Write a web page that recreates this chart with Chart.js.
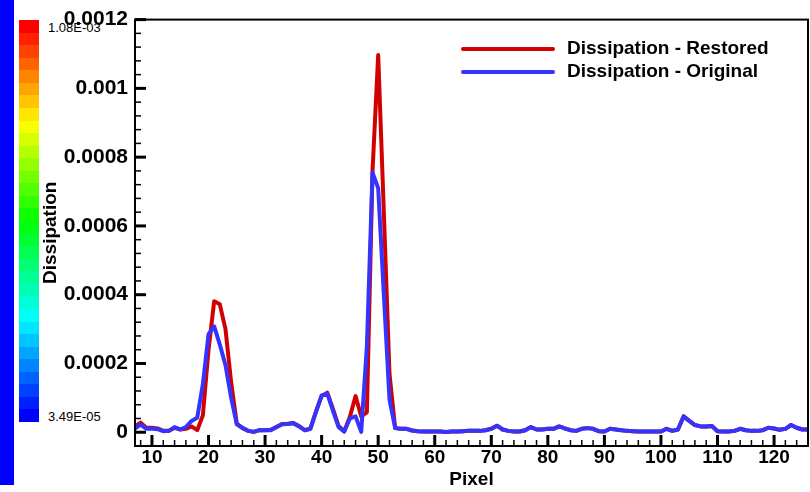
<!DOCTYPE html>
<html>
<head>
<meta charset="utf-8">
<script src="https://cdn.jsdelivr.net/npm/chart.js@4/dist/chart.umd.min.js"></script>
<style>
  html, body { margin: 0; padding: 0; background: #fff; }
  #wrap { position: relative; width: 810px; height: 492px; overflow: hidden; font-family: "Liberation Sans", Arial, sans-serif; }
  #strip { position: absolute; left: 0; top: 0; width: 14px; height: 485px; background: #0000ff; }
  #bar { position: absolute; left: 19px; top: 20px; width: 20px; height: 402px; }
  #bar div { width: 20px; }
  .bar-label { position: absolute; left: 48px; font-size: 13px; line-height: 13px; color: #000; }
  #chart { position: absolute; left: 0; top: 0; }
</style>
</head>
<body>
<div id="wrap">
  <div id="strip"></div>
  <div id="bar"></div>
  <span class="bar-label" style="top:21px">1.08E-03</span>
  <span class="bar-label" style="top:410px">3.49E-05</span>
  <canvas id="chart" width="810" height="492"></canvas>
</div>
<script>
// --- data ---
const pixels = [
  7, 8, 9, 10, 11, 12, 13, 14, 15, 16, 17, 18, 19, 20, 21, 22, 23, 24, 25, 26,
  27, 28, 29, 30, 31, 32, 33, 34, 35, 36, 37, 38, 39, 40, 41, 42, 43, 44, 45, 46,
  47, 48, 49, 50, 51, 52, 53, 54, 55, 56, 57, 58, 59, 60, 61, 62, 63, 64, 65, 66,
  67, 68, 69, 70, 71, 72, 73, 74, 75, 76, 77, 78, 79, 80, 81, 82, 83, 84, 85, 86,
  87, 88, 89, 90, 91, 92, 93, 94, 95, 96, 97, 98, 99, 100, 101, 102, 103, 104, 105, 106,
  107, 108, 109, 110, 111, 112, 113, 114, 115, 116, 117, 118, 119, 120, 121, 122, 123, 124, 125, 126
];

const restored = [
  1.7e-5, 2.8e-5, 1.3e-5, 1.3e-5, 1.1e-5, 4e-6, 4e-6, 1.3e-5, 8e-6, 1.0e-5,
  1.7e-5, 6e-6, 4.9e-5, 2.4e-4, 3.81e-4, 3.72e-4, 3.0e-4, 1.45e-4, 2.5e-5, 1.2e-5,
  4e-6, 1e-6, 6e-6, 6e-6, 7e-6, 1.5e-5, 2.4e-5, 2.5e-5, 2.7e-5, 1.8e-5,
  6e-6, 1.0e-5, 6.0e-5, 1.05e-4, 1.15e-4, 6.8e-5, 1.8e-5, 3e-6, 4.5e-5, 1.05e-4,
  4.6e-5, 5.8e-5, 7.6e-4, 1.097e-3, 6.4e-4, 1.7e-4, 1.2e-5, 1.0e-5, 1.0e-5, 5e-6,
  3e-6, 2e-6, 2e-6, 2e-6, 2e-6, 1e-6, 2e-6, 2e-6, 3e-6, 4e-6,
  4e-6, 4e-6, 6e-6, 1.0e-5, 1.9e-5, 8e-6, 4e-6, 2e-6, 2e-6, 6e-6,
  1.5e-5, 8e-6, 8e-6, 1.0e-5, 1.0e-5, 1.7e-5, 1.1e-5, 6e-6, 4e-6, 1.0e-5,
  1.2e-5, 1.0e-5, 3e-6, 2e-6, 1.0e-5, 8e-6, 6e-6, 4e-6, 3e-6, 2e-6,
  2e-6, 2e-6, 2e-6, 2e-6, 1.0e-5, 4e-6, 8e-6, 4.6e-5, 3.3e-5, 2.1e-5,
  1.7e-5, 1.7e-5, 1.8e-5, 3e-6, 2e-6, 2e-6, 4e-6, 1.0e-5, 6e-6, 4e-6,
  4e-6, 6e-6, 1.3e-5, 1.1e-5, 7e-6, 1.0e-5, 2.1e-5, 1.3e-5, 8e-6, 8e-6
];

const original = [
  1.1e-5, 2.2e-5, 1.0e-5, 1.1e-5, 9e-6, 3e-6, 4e-6, 1.5e-5, 8e-6, 1.5e-5,
  3.3e-5, 4.2e-5, 1.4e-4, 2.85e-4, 3.08e-4, 2.55e-4, 1.95e-4, 1.0e-4, 2.3e-5, 1.3e-5,
  4e-6, 1e-6, 6e-6, 6e-6, 6e-6, 1.5e-5, 2.3e-5, 2.4e-5, 2.6e-5, 1.7e-5,
  6e-6, 1.0e-5, 5.9e-5, 1.07e-4, 1.12e-4, 6.3e-5, 1.5e-5, 2e-6, 4.0e-5, 4.6e-5,
  1e-6, 2.5e-4, 7.55e-4, 7.1e-4, 4.0e-4, 9.5e-5, 1.2e-5, 1.0e-5, 1.0e-5, 5e-6,
  3e-6, 2e-6, 2e-6, 2e-6, 2e-6, 1e-6, 2e-6, 2e-6, 3e-6, 4e-6,
  4e-6, 4e-6, 6e-6, 1.0e-5, 1.9e-5, 8e-6, 4e-6, 2e-6, 2e-6, 6e-6,
  1.5e-5, 8e-6, 8e-6, 1.0e-5, 1.0e-5, 1.7e-5, 1.1e-5, 6e-6, 4e-6, 1.0e-5,
  1.2e-5, 1.0e-5, 3e-6, 2e-6, 1.0e-5, 8e-6, 6e-6, 4e-6, 3e-6, 2e-6,
  2e-6, 2e-6, 2e-6, 2e-6, 1.0e-5, 4e-6, 8e-6, 4.6e-5, 3.3e-5, 2.1e-5,
  1.7e-5, 1.7e-5, 1.8e-5, 3e-6, 2e-6, 2e-6, 4e-6, 1.0e-5, 6e-6, 4e-6,
  4e-6, 6e-6, 1.3e-5, 1.1e-5, 7e-6, 1.0e-5, 2.1e-5, 1.3e-5, 8e-6, 8e-6
];

const seriesNames = ['Dissipation - Restored', 'Dissipation - Original'];
const seriesColors = ['rgb(210,0,0)', 'rgb(52,52,255)'];

const xMajorTicks = [10, 20, 30, 40, 50, 60, 70, 80, 90, 100, 110, 120];
const yMajorTicks = [0, 0.0002, 0.0004, 0.0006, 0.0008, 0.001, 0.0012];
const yTickLabels = ['0', '0.0002', '0.0004', '0.0006', '0.0008', '0.001', '0.0012'];

// --- colour legend bar on the left (Tecplot style contour legend) ---
const rainbowStops = [[0, 0, 255], [0, 255, 255], [0, 255, 0], [255, 255, 0], [255, 0, 0]];
const bandCount = 32;
const barEl = document.getElementById('bar');
for (let i = bandCount - 1; i >= 0; i--) {
  const t = i / (bandCount - 1) * (rainbowStops.length - 1);
  const k = Math.min(Math.floor(t), rainbowStops.length - 2);
  const f = t - k;
  const c = rainbowStops[k].map((v, j) => Math.round(v + (rainbowStops[k + 1][j] - v) * f));
  const band = document.createElement('div');
  band.style.height = (402 / bandCount) + 'px';
  band.style.background = `rgb(${c[0]},${c[1]},${c[2]})`;
  barEl.appendChild(band);
}

// --- inward ticks, box frame and in-plot legend ---
const frameAndTicks = {
  id: 'frameAndTicks',
  afterDatasetsDraw(chart) {
    const { ctx, chartArea: a, scales: { x, y } } = chart;
    ctx.save();
    ctx.strokeStyle = '#000';
    ctx.lineCap = 'butt';

    for (let v = 8; v <= 126; v += 2) {
      const px = x.getPixelForValue(v);
      const major = v % 10 === 0;
      ctx.lineWidth = major ? 3 : 1.5;
      ctx.beginPath();
      ctx.moveTo(px, a.bottom);
      ctx.lineTo(px, a.bottom - (major ? 11 : 6));
      ctx.stroke();
    }
    for (let i = -1; i <= 30; i++) {
      const py = y.getPixelForValue(i * 0.00004);
      const major = i % 5 === 0;
      ctx.lineWidth = major ? 3 : 1.5;
      ctx.beginPath();
      ctx.moveTo(a.left, py);
      ctx.lineTo(a.left + (major ? 11 : 6), py);
      ctx.stroke();
    }

    ctx.lineWidth = 2;
    ctx.strokeRect(a.left, a.top, a.right - a.left, a.bottom - a.top);

    // legend
    ctx.font = 'bold 19px "Liberation Sans", Arial, sans-serif';
    ctx.textBaseline = 'middle';
    ctx.fillStyle = '#000';
    seriesNames.forEach((name, i) => {
      const ly = 49 + i * 23;
      ctx.strokeStyle = seriesColors[i];
      ctx.lineWidth = 4;
      ctx.lineCap = 'round';
      ctx.beginPath();
      ctx.moveTo(463, ly);
      ctx.lineTo(553, ly);
      ctx.stroke();
      ctx.fillText(name, 567, ly);
    });
    ctx.restore();
  }
};

const font = '"Liberation Sans", Arial, sans-serif';
Chart.defaults.font.family = font;
Chart.defaults.color = '#000';

new Chart(document.getElementById('chart'), {
  type: 'line',
  data: {
    datasets: [
      {
        label: seriesNames[0],
        data: pixels.map((p, i) => ({ x: p, y: restored[i] })),
        borderColor: seriesColors[0],
        borderWidth: 4,
        pointRadius: 0,
        borderJoinStyle: 'round',
        order: 1
      },
      {
        label: seriesNames[1],
        data: pixels.map((p, i) => ({ x: p, y: original[i] })),
        borderColor: seriesColors[1],
        borderWidth: 4,
        pointRadius: 0,
        borderJoinStyle: 'round',
        order: 0
      }
    ]
  },
  options: {
    responsive: false,
    animation: false,
    devicePixelRatio: 1,
    layout: { padding: { left: 39, top: 16, right: 2, bottom: 0 } },
    plugins: {
      legend: { display: false },
      tooltip: { enabled: false }
    },
    scales: {
      x: {
        type: 'linear',
        min: 7,
        max: 126,
        grid: { display: false, drawTicks: false },
        border: { display: false },
        afterBuildTicks: (scale) => { scale.ticks = xMajorTicks.map(v => ({ value: v })); },
        afterFit: (scale) => { scale.height = 46; },
        ticks: {
          autoSkip: false,
          maxRotation: 0,
          padding: 0,
          font: { size: 19, weight: 'bold' },
          callback: (v) => String(v)
        },
        title: {
          display: true,
          text: 'Pixel',
          font: { size: 19, weight: 'bold' },
          padding: { top: 0, bottom: 1 }
        }
      },
      y: {
        type: 'linear',
        min: -0.00004,
        max: 0.0012,
        grid: { display: false, drawTicks: false },
        border: { display: false },
        afterBuildTicks: (scale) => { scale.ticks = yMajorTicks.map(v => ({ value: v })); },
        afterFit: (scale) => { scale.width = 96; },
        ticks: {
          autoSkip: false,
          padding: 7,
          font: { size: 21, weight: 'bold' },
          callback: (v, i) => yTickLabels[i]
        },
        title: {
          display: true,
          text: 'Dissipation',
          font: { size: 19, weight: 'bold' },
          padding: { top: 0, bottom: 0 }
        }
      }
    }
  },
  plugins: [frameAndTicks]
});
</script>
</body>
</html>
